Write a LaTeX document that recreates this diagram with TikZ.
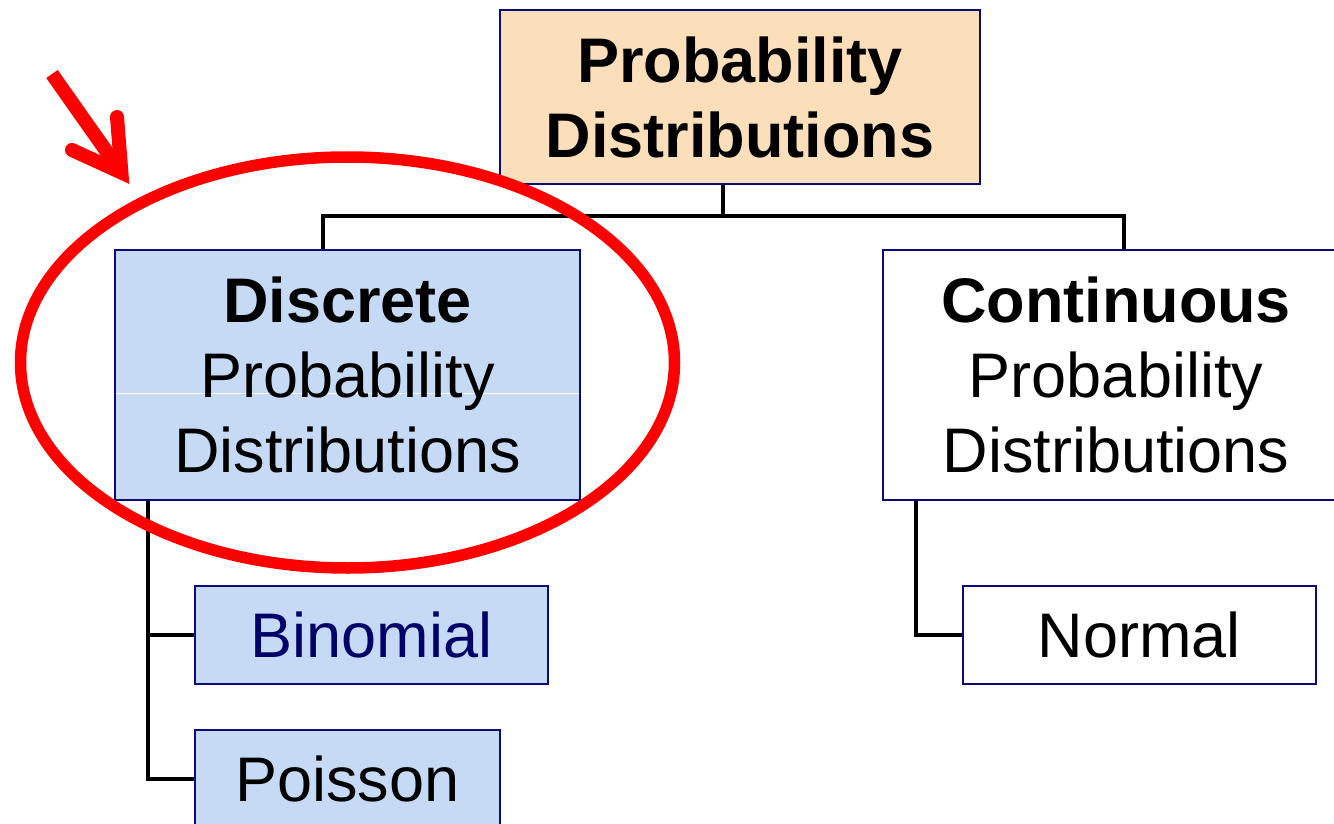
\documentclass[tikz,border=0pt]{standalone}
\usepackage{fontspec}
\setmainfont{Liberation Sans}
\definecolor{navy}{RGB}{10,10,120}
\definecolor{navytext}{RGB}{0,0,105}
\definecolor{peach}{RGB}{251,222,186}
\definecolor{lblue}{RGB}{198,218,246}
\definecolor{arrowred}{RGB}{255,0,0}
\tikzset{
  box/.style={draw=navy, line width=2.5pt, inner sep=0pt, align=center,
    font=\fontsize{63}{75}\selectfont},
  conn/.style={draw=black, line width=3.5pt},
}
\begin{document}
\begin{tikzpicture}[x=1pt,y=-1pt]
\useasboundingbox (0,0) rectangle (1334,824);
\clip (0,0) rectangle (1334,824);
\fill[white] (0,0) rectangle (1334,824);

% boxes
\node[box, fill=peach, minimum width=480, minimum height=174] (top) at (740,97)
  {\textbf{Probability}\\\textbf{Distributions}};
\node[box, fill=lblue, minimum width=465, minimum height=250,
  path picture={\draw[white, line width=0.8pt]
    ([yshift=-18pt]path picture bounding box.west) -- ([yshift=-18pt]path picture bounding box.east);}]
  (disc) at (347.5,375)
  {\textbf{Discrete}\\Probability\\Distributions};
\node[box, fill=white, minimum width=466, minimum height=250] (cont) at (1116,375)
  {\textbf{Continuous}\\Probability\\Distributions};
\node[box, fill=lblue, minimum width=353, minimum height=98, text=navytext] (binom) at (371.5,635) {Binomial};
\node[box, fill=lblue, minimum width=305, minimum height=98] (pois) at (347.5,779) {Poisson};
\node[box, fill=white, minimum width=353, minimum height=98] (norm) at (1139.5,635) {Normal};

% connector coordinates
\coordinate (j) at (723,216);
\coordinate (bl) at (323,216);
\coordinate (br) at (1124,216);
\coordinate (sl) at (148,500);
\coordinate (sr) at (916,500);

\draw[conn] (top.south -| j) -- (j);
\draw[conn] (disc.north -| bl) -- (bl) -- (br) -- (cont.north -| br);
\draw[conn] (disc.south -| sl) |- (pois.west);
\draw[conn] (binom.west -| sl) -- (binom.west);
\draw[conn] (cont.south -| sr) |- (norm.west);

% red highlight
\draw[arrowred, line width=11.5pt] (347.5,362.5) ellipse [x radius=327, y radius=205.5];
\draw[arrowred, line width=14pt, line cap=butt] (52,74) -- (121,172);
\draw[arrowred, line width=14pt, line cap=round, line join=miter] (117,117) -- (121.4,172.6) -- (72,150);
\end{tikzpicture}
\end{document}
